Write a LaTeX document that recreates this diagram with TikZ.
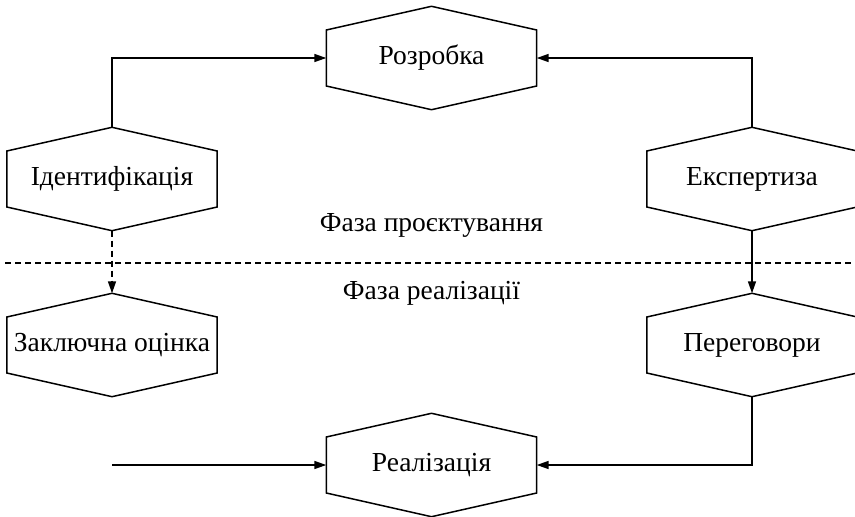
\documentclass[tikz,border=0pt]{standalone}
\usepackage{fontspec}
\setmainfont{Liberation Serif}
\usetikzlibrary{arrows.meta}
\begin{document}
\begin{tikzpicture}[x=1pt,y=-1pt,
  hexnode/.style={rectangle,draw=none,minimum width=210pt,minimum height=103pt,inner sep=0pt,
    font=\fontsize{27.5}{33}\selectfont},
  conn/.style={line width=1.5pt,-{Triangle[length=12pt,width=8pt]}},
  dashconn/.style={conn,dash pattern=on 6pt off 4pt},
  hexline/.style={line width=1.5pt,line join=miter},
  phase/.style={font=\fontsize{27.5}{33}\selectfont,inner sep=0pt}]
\useasboundingbox (0,0) rectangle (855,517);
\node[hexnode] (rozr) at (431.5,58) {Розробка};
\node[hexnode] (ident) at (112,179) {Ідентифікація};
\node[hexnode] (exp) at (752,179) {Експертиза};
\node[hexnode] (zakl) at (112,345) {Заключна оцінка};
\node[hexnode] (perg) at (752,345) {Переговори};
\node[hexnode] (real) at (431.5,465) {Реалізація};
\foreach \n in {rozr,ident,exp,zakl,perg,real}{
  \draw[hexline] ([yshift=28pt]\n.west) -- (\n.north) -- ([yshift=28pt]\n.east)
    -- ([yshift=-28pt]\n.east) -- (\n.south) -- ([yshift=-28pt]\n.west) -- cycle;
}
\node[phase] (p1) at (431.5,225) {Фаза проєктування};
\node[phase] (p2) at (431.5,293) {Фаза реалізації};
\coordinate (dl) at (5,263);
\coordinate (dr) at (855,263);
\draw[line width=1.5pt,dash pattern=on 6pt off 4pt] (dl) -- (dr);
\coordinate (start) at (112,465);
\draw[conn] (ident.north) |- (rozr.west);
\draw[conn] (exp.north) |- (rozr.east);
\draw[dashconn] (ident.south) -- (zakl.north);
\draw[conn] (exp.south) -- (perg.north);
\draw[conn] (perg.south) |- (real.east);
\draw[conn] (start) -- (real.west);
\end{tikzpicture}
\end{document}
